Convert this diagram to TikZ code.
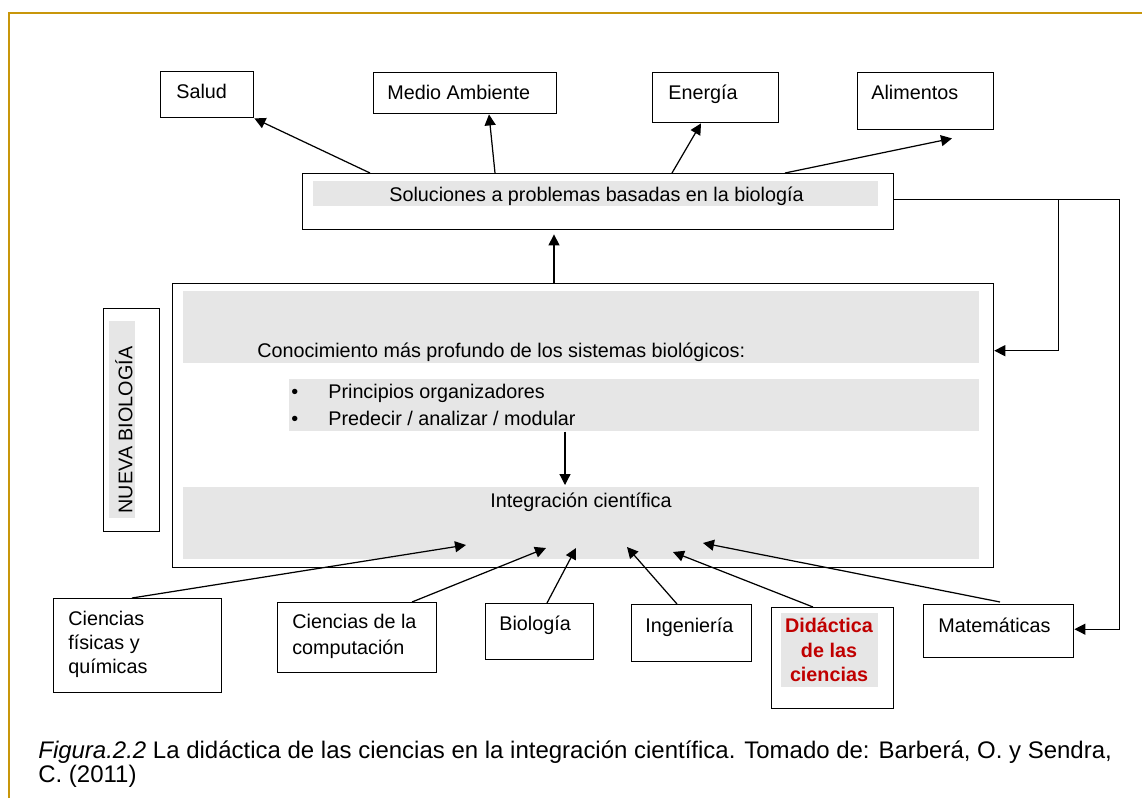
\documentclass[tikz,border=0pt]{standalone}
\usepackage{fontspec}
\setmainfont{Liberation Sans}
\usetikzlibrary{arrows.meta}
\definecolor{dorado}{RGB}{200,150,10}
\definecolor{rojo}{RGB}{192,0,0}
\definecolor{fondo}{RGB}{230,230,230}

\begin{document}
\begin{tikzpicture}[x=0.02cm, y=-0.02cm,
  caja/.style={draw, line width=0.8pt, anchor=north west, inner sep=0pt},
  banda/.style={fill=fondo, anchor=north west, inner sep=0pt},
  texto/.style={anchor=base west, inner sep=0pt, font=\fontsize{11.25}{13.5}\selectfont},
  destacado/.style={anchor=base, inner sep=0pt, text=rojo, font=\fontsize{11.25}{13.5}\selectfont\bfseries},
  flecha/.style={-{Triangle[length=0.22cm, width=0.22cm]}, line width=0.7pt}]
\useasboundingbox (0,0) rectangle (1142,798);
% marco de la figura
\draw[dorado, line width=1.2pt] (9,798) -- (9,13) -- (1142,13);

% aplicaciones arriba
\node[caja, minimum width=1.86cm, minimum height=0.92cm] (salud) at (160,71) {};
\node[texto] (tsalud) at (176,98) {Salud};
\node[caja, minimum width=3.66cm, minimum height=0.82cm] (medio) at (373,72) {};
\node[texto] (tmedio) at (387,99) {Medio Ambiente};
\node[caja, minimum width=2.52cm, minimum height=1.00cm] (energia) at (652,72) {};
\node[texto] (tenergia) at (668,99) {Energía};
\node[caja, minimum width=2.72cm, minimum height=1.14cm] (alimentos) at (857,72) {};
\node[texto] (talimentos) at (871,99) {Alimentos};

% soluciones
\node[caja, minimum width=11.82cm, minimum height=1.12cm] (soluciones) at (302,173) {};
\node[banda, minimum width=11.30cm, minimum height=0.50cm] (bandasol) at (313,181) {};
\node[texto] (tsoluciones) at (389,201) {Soluciones a problemas basadas en la biología};

% nueva biologia
\node[caja, minimum width=1.12cm, minimum height=4.46cm] (lateral) at (103,308) {};
\node[banda, minimum width=0.52cm, minimum height=3.94cm] (bandalat) at (109,321) {};
\node[texto, anchor=center, rotate=90] (tlateral) at (124,430) {NUEVA BIOLOGÍA};

\node[caja, minimum width=16.42cm, minimum height=5.68cm] (nueva) at (172,283) {};
\node[banda, minimum width=15.92cm, minimum height=1.44cm] (banda1) at (183,291) {};
\node[banda, minimum width=13.80cm, minimum height=1.04cm] (banda2) at (289,379) {};
\node[banda, minimum width=15.92cm, minimum height=1.44cm] (banda3) at (183,487) {};
\node[texto] (tconoc) at (257,357) {Conocimiento más profundo de los sistemas biológicos:};
\node[texto] (punto1) at (291,398) {\textbullet};
\node[texto] (tprinc) at (328,398) {Principios organizadores};
\node[texto] (punto2) at (291,425) {\textbullet};
\node[texto] (tpred) at (328,425) {Predecir / analizar / modular};
\node[texto] (tinteg) at (490,507) {Integración científica};

% disciplinas abajo
\node[caja, minimum width=3.36cm, minimum height=1.88cm] (fisquim) at (53,598) {};
\node[texto] (tfisquim1) at (68,625) {Ciencias};
\node[texto] (tfisquim2) at (68,649) {físicas y};
\node[texto] (tfisquim3) at (68,673) {químicas};
\node[caja, minimum width=3.18cm, minimum height=1.40cm] (compu) at (277,602) {};
\node[texto] (tcompu1) at (292,628) {Ciencias de la};
\node[texto] (tcompu2) at (292,654) {computación};
\node[caja, minimum width=2.16cm, minimum height=1.12cm] (biologia) at (485,603) {};
\node[texto] (tbiologia) at (499,630) {Biología};
\node[caja, minimum width=2.40cm, minimum height=1.14cm] (ingenieria) at (631,604) {};
\node[texto] (tingenieria) at (645,632) {Ingeniería};
\node[caja, minimum width=2.44cm, minimum height=2.02cm] (didactica) at (771,607) {};
\node[banda, minimum width=1.94cm, minimum height=1.48cm] (bandadid) at (781,613) {};
\node[destacado] (tdidac1) at (829,632) {Didáctica};
\node[destacado] (tdidac2) at (829,657) {de las};
\node[destacado] (tdidac3) at (829,681) {ciencias};
\node[caja, minimum width=3.00cm, minimum height=1.06cm] (mate) at (923,604) {};
\node[texto] (tmate) at (938,632) {Matemáticas};

% flechas hacia arriba
\draw[flecha] ([shift={(68,0)}]soluciones.north west) -- (salud.south east);
\draw[flecha] ([shift={(193,0)}]soluciones.north west) -- ([shift={(116,0)}]medio.south west);
\draw[flecha] ([shift={(370,0)}]soluciones.north west) -- ([shift={(49,0)}]energia.south west);
\draw[flecha] ([shift={(483,0)}]soluciones.north west) -- ([shift={(95,8)}]alimentos.south west);
\draw[flecha] ([shift={(382,0)}]nueva.north west) -- ([shift={(252,4)}]soluciones.south west);
\draw[flecha] ([shift={(276,0)}]banda2.south west) -- ([shift={(382,-2)}]banda3.north west);

% retroalimentacion por la derecha
\draw[flecha] ([shift={(0,-2)}]soluciones.east) -- ++(225,0) |- ([shift={(0,-2)}]mate.east);
\draw[flecha] ([shift={(164,-2)}]soluciones.east) |- ([shift={(0,-75)}]nueva.east);

% aportes a la integracion
\draw[flecha] ([shift={(79,0)}]fisquim.north west) -- ([shift={(283,58)}]banda3.north west);
\draw[flecha] ([shift={(135,0)}]compu.north west) -- ([shift={(363,61)}]banda3.north west);
\draw[flecha] ([shift={(62,0)}]biologia.north west) -- ([shift={(393,61)}]banda3.north west);
\draw[flecha] ([shift={(46,0)}]ingenieria.north west) -- ([shift={(444,60)}]banda3.north west);
\draw[flecha] ([shift={(42,0)}]didactica.north west) -- ([shift={(490,65)}]banda3.north west);
\draw[flecha] ([shift={(77,-2)}]mate.north west) -- ([shift={(520,56)}]banda3.north west);

% pie de figura
\node[anchor=base west, inner sep=0pt, font=\fontsize{13.65}{15}\selectfont] (pie1) at (38,758)
  {\textit{Figura.2.2} La didáctica de las ciencias en la integración científica. Tomado de: Barberá, O. y Sendra,};
\node[anchor=base west, inner sep=0pt, font=\fontsize{13.65}{15}\selectfont] (pie2) at (38,782) {C. (2011)};
\end{tikzpicture}
\end{document}
